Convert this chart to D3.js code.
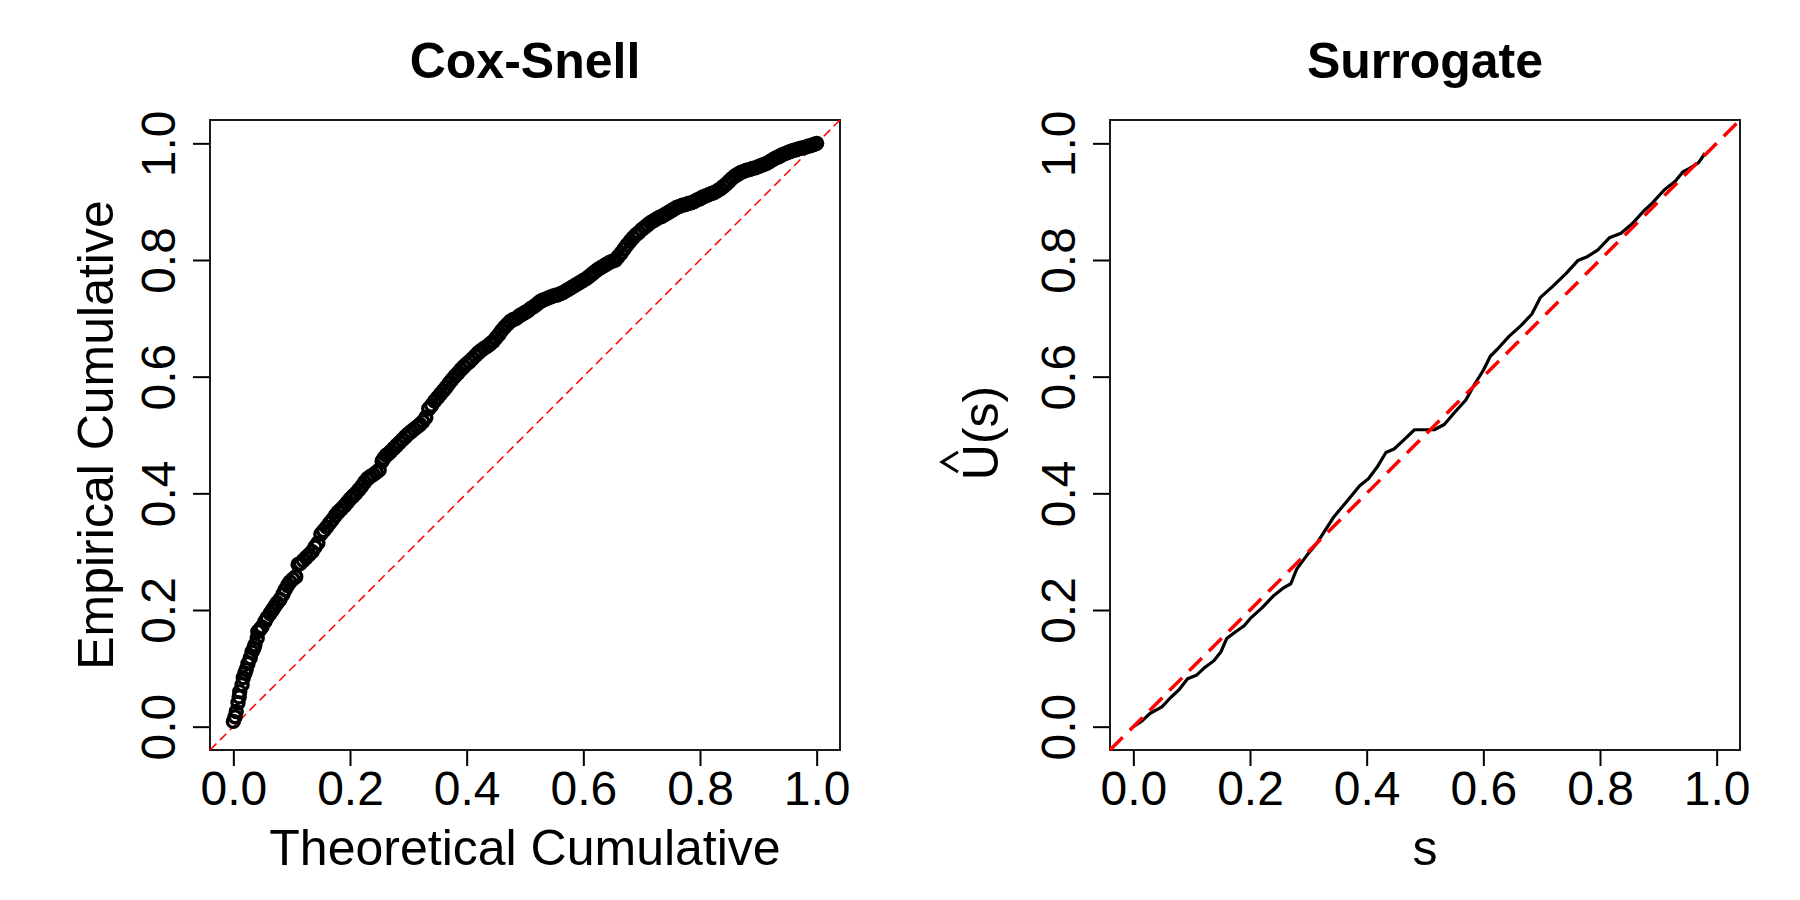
<!DOCTYPE html>
<html>
<head>
<meta charset="utf-8">
<script src="https://cdn.jsdelivr.net/npm/d3@7"></script>
<style>
  body { margin: 0; background: #fff; }
  text { font-family: "Liberation Sans", Arial, Helvetica, sans-serif; fill: #000; }
</style>
</head>
<body>
<div id="chart"></div>
<script>
// tick values shared by both panels
const tickVals = [0, 0.2, 0.4, 0.6, 0.8, 1.0];

// Cox-Snell: [theoretical, empirical] cumulative
const coxPoints = [
  [0.000,0.009],[0.003,0.017],[0.005,0.026],[0.008,0.041],[0.010,0.051],[0.011,0.060],[0.015,0.072],[0.017,0.084],
  [0.020,0.092],[0.022,0.098],[0.025,0.108],[0.029,0.118],[0.032,0.128],[0.035,0.134],[0.037,0.140],[0.041,0.152],
  [0.042,0.163],[0.046,0.167],[0.049,0.171],[0.054,0.180],[0.058,0.187],[0.063,0.194],[0.067,0.200],[0.071,0.206],
  [0.075,0.212],[0.080,0.218],[0.085,0.227],[0.089,0.235],[0.093,0.242],[0.097,0.248],[0.102,0.253],[0.107,0.257],
  [0.111,0.278],[0.115,0.280],[0.120,0.285],[0.125,0.290],[0.130,0.295],[0.135,0.300],[0.140,0.308],[0.145,0.315],
  [0.150,0.330],[0.155,0.336],[0.160,0.342],[0.165,0.349],[0.170,0.355],[0.175,0.362],[0.180,0.368],[0.185,0.373],
  [0.190,0.378],[0.195,0.384],[0.200,0.390],[0.205,0.395],[0.210,0.400],[0.215,0.406],[0.220,0.412],[0.225,0.419],
  [0.230,0.425],[0.235,0.429],[0.240,0.432],[0.245,0.436],[0.250,0.440],[0.255,0.455],[0.258,0.460],[0.262,0.465],
  [0.266,0.468],[0.270,0.472],[0.275,0.477],[0.280,0.482],[0.285,0.487],[0.290,0.492],[0.295,0.497],[0.300,0.502],
  [0.305,0.506],[0.310,0.510],[0.315,0.514],[0.320,0.518],[0.325,0.523],[0.330,0.530],[0.335,0.545],[0.340,0.551],
  [0.345,0.558],[0.350,0.564],[0.355,0.570],[0.360,0.576],[0.365,0.582],[0.370,0.589],[0.375,0.595],[0.380,0.601],
  [0.385,0.606],[0.390,0.612],[0.395,0.617],[0.400,0.622],[0.405,0.626],[0.410,0.631],[0.415,0.636],[0.420,0.641],
  [0.425,0.645],[0.430,0.649],[0.435,0.652],[0.440,0.656],[0.445,0.660],[0.450,0.666],[0.455,0.672],[0.460,0.679],
  [0.465,0.685],[0.470,0.690],[0.475,0.695],[0.480,0.698],[0.485,0.700],[0.490,0.704],[0.495,0.707],[0.500,0.710],
  [0.505,0.713],[0.510,0.717],[0.515,0.720],[0.520,0.724],[0.525,0.728],[0.530,0.731],[0.535,0.733],[0.540,0.735],
  [0.545,0.737],[0.550,0.739],[0.555,0.740],[0.560,0.742],[0.565,0.744],[0.570,0.747],[0.575,0.750],[0.580,0.753],
  [0.585,0.756],[0.590,0.759],[0.595,0.762],[0.600,0.765],[0.605,0.768],[0.610,0.772],[0.615,0.776],[0.620,0.780],
  [0.625,0.784],[0.630,0.787],[0.635,0.790],[0.640,0.793],[0.645,0.796],[0.650,0.798],[0.655,0.800],[0.660,0.806],
  [0.665,0.812],[0.670,0.819],[0.675,0.826],[0.680,0.832],[0.685,0.838],[0.690,0.843],[0.695,0.847],[0.700,0.852],
  [0.705,0.856],[0.710,0.860],[0.715,0.864],[0.720,0.867],[0.725,0.870],[0.730,0.873],[0.735,0.875],[0.740,0.878],
  [0.745,0.881],[0.750,0.884],[0.755,0.887],[0.760,0.890],[0.765,0.892],[0.770,0.894],[0.775,0.895],[0.780,0.897],
  [0.785,0.898],[0.790,0.900],[0.795,0.903],[0.800,0.905],[0.805,0.908],[0.810,0.910],[0.815,0.912],[0.820,0.914],
  [0.825,0.916],[0.830,0.919],[0.835,0.922],[0.840,0.926],[0.845,0.930],[0.850,0.935],[0.855,0.940],[0.860,0.944],
  [0.865,0.947],[0.870,0.950],[0.875,0.952],[0.880,0.954],[0.885,0.955],[0.890,0.957],[0.895,0.958],[0.900,0.960],
  [0.905,0.962],[0.910,0.964],[0.915,0.966],[0.920,0.969],[0.925,0.972],[0.930,0.975],[0.935,0.977],[0.940,0.980],
  [0.945,0.982],[0.950,0.984],[0.955,0.986],[0.960,0.988],[0.965,0.989],[0.970,0.991],[0.975,0.992],[0.980,0.993],
  [0.985,0.995],[0.990,0.996],[0.995,0.998],[1.000,1.000]
];

// Surrogate: s vs U-hat(s)
const surS = [0.000,0.015,0.029,0.049,0.064,0.079,0.093,0.108,0.123,0.138,0.150,0.160,0.172,0.190,0.202,0.221,
  0.241,0.256,0.270,0.280,0.300,0.315,0.329,0.344,0.359,0.374,0.388,0.403,0.418,0.433,0.447,0.462,0.482,0.501,
  0.516,0.533,0.551,0.570,0.585,0.600,0.612,0.624,0.644,0.664,0.683,0.698,0.718,0.742,0.762,0.777,0.796,0.816,
  0.836,0.855,0.875,0.890,0.910,0.929,0.942,0.955,0.969,0.980];
const surU = [0.000,0.010,0.023,0.034,0.050,0.064,0.082,0.088,0.102,0.113,0.128,0.151,0.160,0.173,0.187,0.204,
  0.225,0.237,0.245,0.270,0.297,0.315,0.337,0.360,0.378,0.396,0.413,0.425,0.445,0.470,0.476,0.490,0.509,0.509,
  0.509,0.518,0.539,0.560,0.587,0.611,0.635,0.647,0.669,0.687,0.707,0.736,0.754,0.777,0.799,0.805,0.817,0.838,
  0.846,0.862,0.884,0.898,0.920,0.935,0.951,0.958,0.967,0.983];

const width = 1800, height = 900;
const plotTop = 120, plotBottom = 750;
const panels = [
  { left: 210, right: 840, title: "Cox-Snell", xlab: "Theoretical Cumulative" },
  { left: 1110, right: 1740, title: "Surrogate", xlab: "s" }
];

const svg = d3.select("#chart").append("svg")
  .attr("width", width)
  .attr("height", height);

const fmt = d3.format(".1f");

function drawFrame(p) {
  const x = d3.scaleLinear().domain([-0.04, 1.04]).range([p.left, p.right]);
  const y = d3.scaleLinear().domain([-0.04, 1.04]).range([plotBottom, plotTop]);
  const g = svg.append("g");

  // x axis
  const gx = g.append("g")
    .attr("transform", `translate(0,${plotBottom})`)
    .call(d3.axisBottom(x).tickValues(tickVals).tickSize(16).tickFormat(fmt));
  gx.select(".domain").remove();
  gx.selectAll("line").attr("stroke", "#000").attr("stroke-width", 2);
  gx.selectAll("text")
    .attr("y", 55).attr("dy", 0)
    .style("font-size", "48px")
    .style("font-family", "'Liberation Sans', Arial, sans-serif")
    .attr("fill", "#000");

  // y axis, labels turned like R's las=0
  const gy = g.append("g")
    .attr("transform", `translate(${p.left},0)`)
    .call(d3.axisLeft(y).tickValues(tickVals).tickSize(17).tickFormat(fmt));
  gy.select(".domain").remove();
  gy.selectAll("line").attr("stroke", "#000").attr("stroke-width", 2);
  gy.selectAll("text")
    .attr("x", 0).attr("y", 0).attr("dy", 0)
    .attr("transform", "translate(-35,0) rotate(-90)")
    .attr("text-anchor", "middle")
    .style("font-size", "48px")
    .style("font-family", "'Liberation Sans', Arial, sans-serif")
    .attr("fill", "#000");

  // box
  g.append("rect")
    .attr("x", p.left).attr("y", plotTop)
    .attr("width", p.right - p.left).attr("height", plotBottom - plotTop)
    .attr("fill", "none").attr("stroke", "#1a1a1a").attr("stroke-width", 2);

  // title
  g.append("text")
    .attr("x", (p.left + p.right) / 2).attr("y", 78)
    .attr("text-anchor", "middle")
    .style("font-size", "50px").style("font-weight", "bold")
    .text(p.title);

  // x label
  g.append("text")
    .attr("x", (p.left + p.right) / 2).attr("y", 865)
    .attr("text-anchor", "middle")
    .style("font-size", "50px")
    .text(p.xlab);

  return { x, y, g };
}

// ---- left panel: Cox-Snell ----
const L = drawFrame(panels[0]);

L.g.append("g")
  .attr("transform", "translate(113,435) rotate(-90)")
  .append("text")
  .attr("text-anchor", "middle")
  .style("font-size", "50px")
  .text("Empirical Cumulative");

L.g.append("line")
  .attr("x1", L.x(-0.04)).attr("y1", L.y(-0.04))
  .attr("x2", L.x(1.04)).attr("y2", L.y(1.04))
  .attr("stroke", "#ff0000").attr("stroke-width", 1.5)
  .attr("stroke-dasharray", "9,5");

L.g.append("g")
  .selectAll("circle")
  .data(coxPoints)
  .join("circle")
  .attr("cx", d => L.x(d[0]))
  .attr("cy", d => L.y(d[1]))
  .attr("r", 6)
  .attr("fill", "none")
  .attr("stroke", "#000")
  .attr("stroke-width", 3.4);

// ---- right panel: Surrogate ----
const R = drawFrame(panels[1]);

const ylab = R.g.append("g")
  .attr("transform", "translate(998,433) rotate(-90)");
ylab.append("text")
  .attr("text-anchor", "middle")
  .style("font-size", "50px")
  .text("U(s)");
// hat over the U
ylab.append("path")
  .attr("d", "M-39,-40 L-29,-56 L-19,-40")
  .attr("fill", "none")
  .attr("stroke", "#000")
  .attr("stroke-width", 3);

const surPts = surS.map((s, i) => ({ s: s, u: surU[i] }));
R.g.append("path")
  .datum(surPts)
  .attr("fill", "none")
  .attr("stroke", "#000")
  .attr("stroke-width", 3.2)
  .attr("stroke-linejoin", "round")
  .attr("d", d3.line().x(d => R.x(d.s)).y(d => R.y(d.u)));

R.g.append("line")
  .attr("x1", R.x(-0.04)).attr("y1", R.y(-0.04))
  .attr("x2", R.x(1.04)).attr("y2", R.y(1.04))
  .attr("stroke", "#ff0000").attr("stroke-width", 3.5)
  .attr("stroke-dasharray", "18,10");
</script>
</body>
</html>
